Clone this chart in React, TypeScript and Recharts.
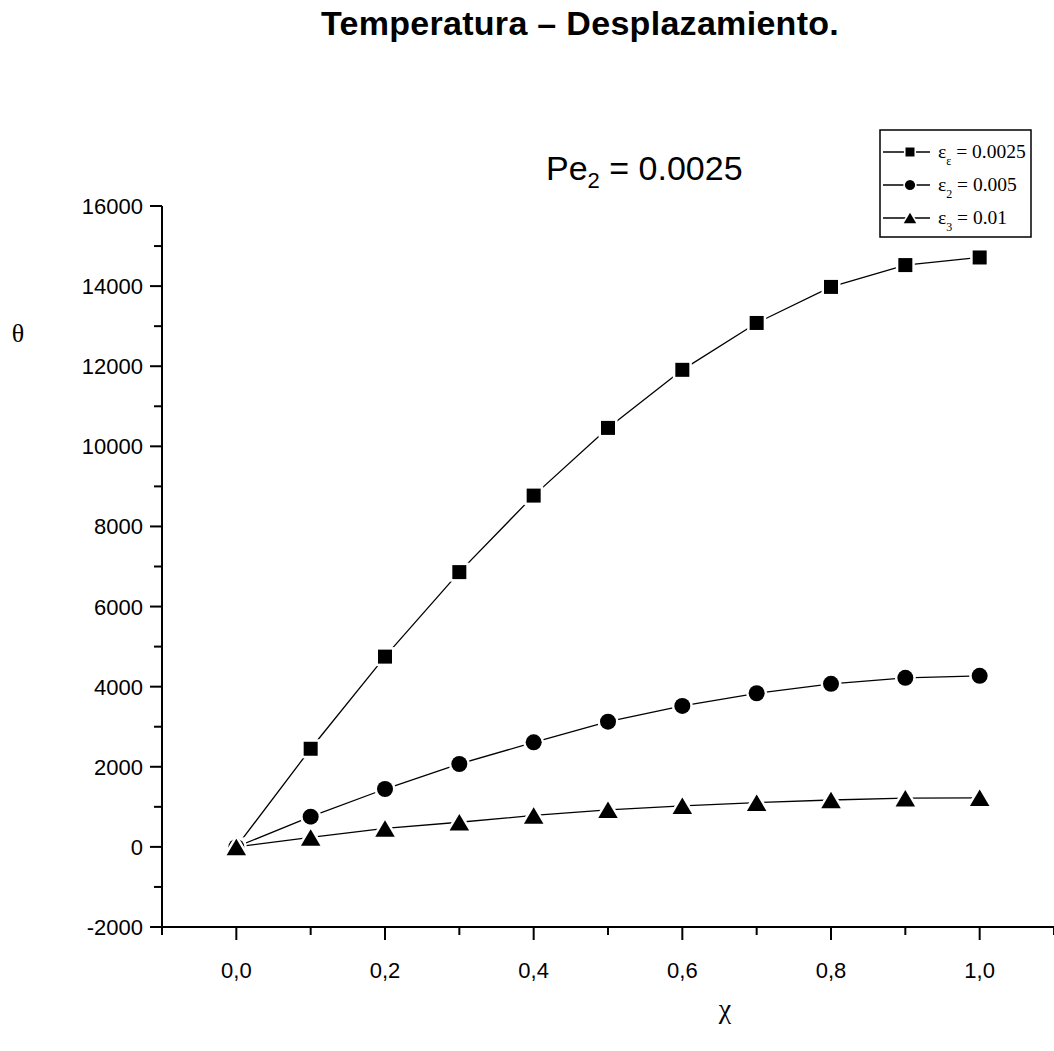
import { Line, LineChart, XAxis, YAxis } from 'recharts';

const chi = [0, 0.1, 0.2, 0.3, 0.4, 0.5, 0.6, 0.7, 0.8, 0.9, 1.0];
const thetaE1 = [0, 2450, 4750, 6860, 8770, 10460, 11910, 13080, 13980, 14525, 14715];
const thetaE2 = [0, 755, 1445, 2070, 2610, 3125, 3520, 3835, 4070, 4220, 4270];
const thetaE3 = [0, 235, 460, 615, 785, 925, 1025, 1105, 1170, 1215, 1225];

const xTicks = [-0.1, 0, 0.1, 0.2, 0.3, 0.4, 0.5, 0.6, 0.7, 0.8, 0.9, 1.0, 1.1];
const yTicks = [
  -2000, -1000, 0, 1000, 2000, 3000, 4000, 5000, 6000, 7000, 8000, 9000, 10000, 11000, 12000, 13000,
  14000, 15000, 16000,
];

const legendSub = ['ε', '2', '3'];
const legendVal = ['0.0025', '0.005', '0.01'];

const data = chi.map((x, i) => ({ x, e1: thetaE1[i], e2: thetaE2[i], e3: thetaE3[i] }));

const SANS = 'Liberation Sans, Arial, sans-serif';
const SERIF = 'Liberation Serif, Times New Roman, serif';

type Shape = 'square' | 'circle' | 'triangle';

const Marker = ({ shape, cx, cy, k = 1 }: { shape: Shape; cx: number; cy: number; k?: number }) => {
  const common = { fill: '#000', stroke: '#fff', strokeWidth: 5 * k, paintOrder: 'stroke' as const };
  if (shape === 'square') {
    const s = 14 * k;
    return <rect x={cx - s / 2} y={cy - s / 2} width={s} height={s} {...common} />;
  }
  if (shape === 'circle') {
    return <circle cx={cx} cy={cy} r={8 * k} {...common} />;
  }
  const w = 19.5 * k;
  const h = 16.5 * k;
  const pts = `${cx - w / 2},${cy + h / 2} ${cx + w / 2},${cy + h / 2} ${cx},${cy - h / 2}`;
  return <polygon points={pts} {...common} />;
};

const makeDot = (shape: Shape) => (p: any) => {
  if (p.cx == null || p.cy == null) return <g key={p.index} />;
  return <Marker key={p.index} shape={shape} cx={p.cx} cy={p.cy} />;
};

const XTick = (props: any) => {
  const { x, y, payload } = props;
  const v = payload.value as number;
  const major = Math.abs(Math.round(v * 10)) % 2 === 0;
  return (
    <g>
      <line x1={x} x2={x} y1={y} y2={y + (major ? 13 : 8)} stroke="#000" strokeWidth={2} />
      {major && (
        <text x={x} y={y + 51} textAnchor="middle" fontFamily={SANS} fontSize={22} fill="#000">
          {v.toFixed(1).replace('.', ',')}
        </text>
      )}
    </g>
  );
};

const YTick = (props: any) => {
  const { x, y, payload } = props;
  const v = payload.value as number;
  const major = v % 2000 === 0;
  return (
    <g>
      <line x1={x - (major ? 12 : 8)} x2={x} y1={y} y2={y} stroke="#000" strokeWidth={2} />
      {major && (
        <text x={x - 19} y={y + 8} textAnchor="end" fontFamily={SANS} fontSize={22} fill="#000">
          {String(v)}
        </text>
      )}
    </g>
  );
};

const series: { key: string; shape: Shape }[] = [
  { key: 'e1', shape: 'square' },
  { key: 'e2', shape: 'circle' },
  { key: 'e3', shape: 'triangle' },
];

export default function App() {
  return (
    <div style={{ position: 'absolute', left: 0, top: 0, width: 1054, height: 1051, background: '#fff' }}>
      <LineChart width={1054} height={1051} data={data} margin={{ top: 206, right: 0, bottom: 0, left: 0 }}>
        <XAxis
          type="number"
          dataKey="x"
          domain={[-0.1, 1.1]}
          ticks={xTicks}
          interval={0}
          height={124}
          tickSize={0}
          tickMargin={0}
          tickLine={false}
          axisLine={{ stroke: '#000', strokeWidth: 2 }}
          tick={<XTick />}
        />
        <YAxis
          type="number"
          domain={[-2000, 16000]}
          ticks={yTicks}
          interval={0}
          width={162}
          tickSize={0}
          tickMargin={0}
          tickLine={false}
          axisLine={{ stroke: '#000', strokeWidth: 2 }}
          tick={<YTick />}
        />
        {series.map((s) => (
          <Line
            key={s.key}
            type="linear"
            dataKey={s.key}
            stroke="#000"
            strokeWidth={1.3}
            dot={makeDot(s.shape)}
            activeDot={false}
            isAnimationActive={false}
          />
        ))}
      </LineChart>
      <svg
        width={1054}
        height={1051}
        style={{ position: 'absolute', left: 0, top: 0, pointerEvents: 'none' }}
      >
        <text
          x={580}
          y={35}
          textAnchor="middle"
          fontFamily={SANS}
          fontWeight="bold"
          fontSize={34}
          letterSpacing={0.3}
          fill="#000"
        >
          Temperatura – Desplazamiento.
        </text>
        <text x={546} y={180} fontFamily={SANS} fontSize={34} fill="#000">
          Pe
          <tspan fontSize={22} dy={8}>2</tspan>
          <tspan dy={-8}> = 0.0025</tspan>
        </text>
        <text x={18} y={342} textAnchor="middle" fontFamily={SERIF} fontSize={26} fill="#000">
          θ
        </text>
        <text x={725} y={1018} textAnchor="middle" fontFamily={SERIF} fontSize={28} fill="#000">
          χ
        </text>
        <rect x={880} y={130} width={151} height={107} fill="#fff" stroke="#000" strokeWidth={1.5} />
        {series.map((s, i) => {
          const cy = 152 + i * 33;
          return (
            <g key={s.key}>
              <line x1={883} x2={930} y1={cy} y2={cy} stroke="#000" strokeWidth={1.3} />
              <Marker shape={s.shape} cx={910} cy={cy} k={0.64} />
              <text x={938} y={cy + 6} fontFamily={SERIF} fontSize={19.5} fill="#000">
                ε
                <tspan fontSize={12} dy={7}>{legendSub[i]}</tspan>
                <tspan dy={-7}> = {legendVal[i]}</tspan>
              </text>
            </g>
          );
        })}
      </svg>
    </div>
  );
}
